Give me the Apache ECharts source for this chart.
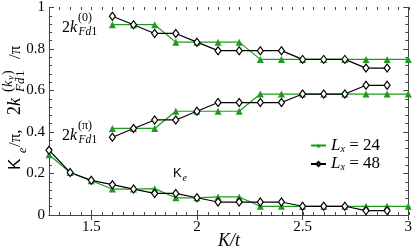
<!DOCTYPE html>
<html><head><meta charset="utf-8">
<script src="https://cdn.jsdelivr.net/npm/echarts@6/dist/echarts.min.js"></script>
<style>html,body{margin:0;padding:0;background:#fff}#c{width:415px;height:251px}</style>
</head><body><div id="c"></div>
<script>
// ---- data ----
const kBand24 = [1.6,1.7,1.8,1.9,2.0,2.1,2.2,2.3,2.4,2.5,2.6,2.7,2.8,2.9,3.0];
const upper24 = [0.917,0.917,0.917,0.833,0.833,0.833,0.833,0.75,0.75,0.75,0.75,0.75,0.75,0.75,0.75];
const lower24 = [0.417,0.417,0.417,0.5,0.5,0.5,0.5,0.583,0.583,0.583,0.583,0.583,0.583,0.583,0.583];
const kBand48 = [1.6,1.7,1.8,1.9,2.0,2.1,2.2,2.3,2.4,2.5,2.6,2.7,2.8,2.9];
const upper48 = [0.958,0.917,0.875,0.875,0.833,0.792,0.792,0.792,0.792,0.75,0.75,0.75,0.708,0.708];
const lower48 = [0.375,0.417,0.458,0.458,0.5,0.542,0.542,0.542,0.542,0.583,0.583,0.583,0.625,0.625];
const kKe24 = [1.3,1.4,1.5,1.6,1.7,1.8,1.9,2.0,2.1,2.2,2.3,2.4,2.5,2.6,2.7,2.8,2.9,3.0];
const ke24 = [0.29,0.205,0.165,0.125,0.125,0.127,0.083,0.083,0.087,0.087,0.042,0.042,0.042,0.042,0.042,0.042,0.042,0.042];
const kKe48 = [1.3,1.4,1.5,1.6,1.7,1.8,1.9,2.0,2.1,2.2,2.3,2.4,2.5,2.6,2.7,2.8,2.9];
const ke48 = [0.3125,0.205,0.167,0.146,0.125,0.104,0.104,0.083,0.0625,0.0625,0.0625,0.0625,0.042,0.042,0.042,0.021,0.021];
const xTicks = [1.5, 2, 2.5, 3];
const yTicks = [0, 0.2, 0.4, 0.6, 0.8, 1];
const seriesNames = ['Lx24', 'Lx48'];
const legendValues = {Lx24: '24', Lx48: '48'};

// ---- style ----
const GREEN = '#1f9a1f';
const AX = '#444';
const SERIF = '"Liberation Serif", serif';
const xMinor = [];
for (let i = 26; i <= 60; i++) xMinor.push(+(i * 0.05).toFixed(2));

function pairs(ks, vs) { return ks.map((k, i) => [k, vs[i]]); }

function greenSeries(data) {
  return {
    type: 'line', name: seriesNames[0], data: data, xAxisIndex: 0, yAxisIndex: 0,
    symbol: 'triangle', symbolSize: 7, showAllSymbol: true, color: GREEN,
    lineStyle: {color: GREEN, width: 1.2}, itemStyle: {color: GREEN},
    z: 2, animation: false
  };
}
function blackSeries(data) {
  return {
    type: 'line', name: seriesNames[1], data: data, xAxisIndex: 0, yAxisIndex: 0,
    symbol: 'diamond', symbolSize: [6, 8], showAllSymbol: true, color: '#000',
    lineStyle: {color: '#000', width: 1.2},
    itemStyle: {color: '#fff', borderColor: '#000', borderWidth: 1.2},
    z: 3, animation: false
  };
}

function t(x, y, text, font, extra) {
  return {type: 'text', x: x, y: y, silent: true,
    style: Object.assign({text: text, font: font, fill: '#000', verticalAlign: 'middle', align: 'left'}, extra || {})};
}
const F = (size, italic) => (italic ? 'italic ' : '') + size + 'px "Liberation Serif", serif';
const FS = size => size + 'px "Liberation Sans", sans-serif';

const gridRect = {left: 49, right: 6, top: 7, bottom: 36};
const axisLineStyle = {show: true, lineStyle: {color: AX, width: 1}};

const option = {
  backgroundColor: '#fff',
  animation: false,
  grid: [Object.assign({}, gridRect), Object.assign({}, gridRect)],
  xAxis: [
    {type: 'value', gridIndex: 0, position: 'bottom', min: 1.3, max: 3.0,
     axisLine: axisLineStyle,
     axisTick: {show: true, inside: true, length: 5, customValues: xTicks, lineStyle: {color: AX}},
     axisLabel: {show: true, customValues: xTicks, margin: 5, color: '#000', fontFamily: SERIF, fontSize: 15,
       formatter: v => String(v)},
     splitLine: {show: false}},
    {type: 'value', gridIndex: 0, position: 'top', min: 1.3, max: 3.0,
     axisLine: axisLineStyle,
     axisTick: {show: true, inside: true, length: 5, customValues: xTicks, lineStyle: {color: AX}},
     axisLabel: {show: false}, splitLine: {show: false}},
    {type: 'value', gridIndex: 1, position: 'bottom', min: 1.3, max: 3.0,
     axisLine: {show: false},
     axisTick: {show: true, inside: true, length: 3, customValues: xMinor, lineStyle: {color: AX}},
     axisLabel: {show: false}, splitLine: {show: false}},
    {type: 'value', gridIndex: 1, position: 'top', min: 1.3, max: 3.0,
     axisLine: {show: false},
     axisTick: {show: true, inside: true, length: 3, customValues: xMinor, lineStyle: {color: AX}},
     axisLabel: {show: false}, splitLine: {show: false}}
  ],
  yAxis: [
    {type: 'value', gridIndex: 0, position: 'left', min: 0, max: 1, interval: 0.2,
     axisLine: axisLineStyle,
     axisTick: {show: true, inside: true, length: 5, lineStyle: {color: AX}},
     minorTick: {show: true, splitNumber: 5, length: 3, lineStyle: {color: AX}},
     axisLabel: {show: true, margin: 4, color: '#000', fontFamily: SERIF, fontSize: 15,
       customValues: yTicks, formatter: v => String(v)},
     splitLine: {show: false}, minorSplitLine: {show: false}},
    {type: 'value', gridIndex: 0, position: 'right', min: 0, max: 1, interval: 0.2,
     axisLine: axisLineStyle,
     axisTick: {show: true, inside: true, length: 5, lineStyle: {color: AX}},
     minorTick: {show: true, splitNumber: 5, length: 3, lineStyle: {color: AX}},
     axisLabel: {show: false}, splitLine: {show: false}},
    {type: 'value', gridIndex: 1, show: false, min: 0, max: 1}
  ],
  legend: {
    data: seriesNames,
    orient: 'vertical', left: 305, top: 132,
    itemWidth: 15, itemHeight: 5, itemGap: 1.5,
    formatter: name => '{i|L}{s|x}{n| = ' + legendValues[name] + '}',
    textStyle: {
      color: '#000',
      rich: {
        i: {fontFamily: SERIF, fontStyle: 'italic', fontSize: 17, lineHeight: 17, color: '#000'},
        s: {fontFamily: SERIF, fontStyle: 'italic', fontSize: 10, verticalAlign: 'bottom', lineHeight: 11, color: '#000'},
        n: {fontFamily: SERIF, fontSize: 17, lineHeight: 17, color: '#000'}
      }
    }
  },
  series: [
    greenSeries(pairs(kBand24, upper24)),
    greenSeries(pairs(kBand24, lower24)),
    greenSeries(pairs(kKe24, ke24)),
    blackSeries(pairs(kBand48, upper48)),
    blackSeries(pairs(kBand48, lower48)),
    blackSeries(pairs(kKe48, ke48))
  ],
  graphic: [
    // 2k^(0)_Fd1
    t(62, 28, '2', F(16)),
    t(70, 28, 'k', F(16, true)),
    t(78, 17.5, '(0)', F(12)),
    t(78.5, 32, 'Fd', F(11.5, true)),
    t(91.5, 32, '1', F(11.5)),
    // 2k^(pi)_Fd1
    t(62, 136, '2', F(16)),
    t(70, 136, 'k', F(16, true)),
    t(78, 125.5, '(π)', F(12)),
    t(78.5, 140, 'Fd', F(11.5, true)),
    t(91.5, 140, '1', F(11.5)),
    // K_e
    t(173, 173.5, 'K', FS(13)),
    t(182.5, 178, 'e', F(10, true)),
    // x axis title
    t(229, 241, 'K/t', F(18, true), {align: 'center'}),
    // y axis title (rotated group)
    {type: 'group', x: 15, y: 170, rotation: Math.PI / 2, children: [
      t(0, 0, 'K', FS(17)),
      t(17, 8, 'e', F(12, true)),
      t(23, 0.5, '/π,', F(17)),
      t(55, 0.5, '2', F(18)),
      t(64, 0.5, 'k', F(18, true)),
      t(78, -7, '(', F(14)),
      t(83, -7, 'k', F(14, true)),
      t(90, -4, 'y', F(10, true)),
      t(95, -7, ')', F(14)),
      t(78, 6, 'Fd', F(13, true)),
      t(93, 6, '1', F(13)),
      t(111, 0.5, '/π', F(17))
    ]}
  ]
};

const chart = echarts.init(document.getElementById('c'), null, {renderer: 'canvas'});
chart.setOption(option);
</script>
</body></html>
